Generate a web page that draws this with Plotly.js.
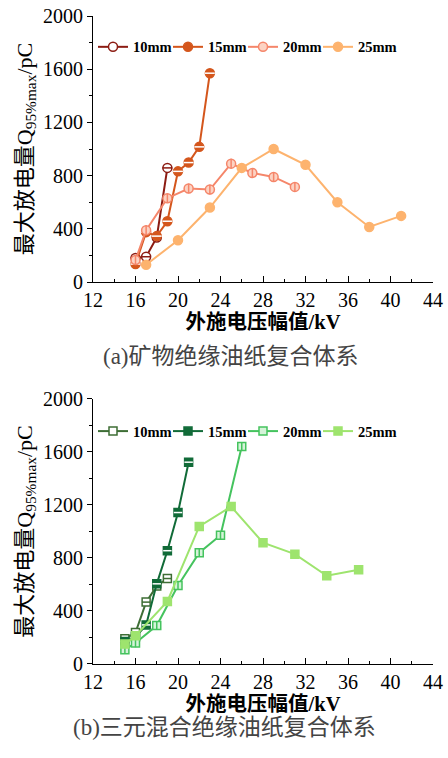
<!DOCTYPE html>
<html><head><meta charset="utf-8">
<script src="https://cdn.plot.ly/plotly-3.0.1.min.js"></script>
<style>html,body{margin:0;padding:0;background:#fff}#c{width:448px;height:758px}</style>
</head><body><div id="c"></div>
<script>
// (a) mineral oil-paper
const seriesNames = ['10mm','15mm','20mm','25mm'];
const v10a = [16,17,18,19];
const q10a = [180,190,335,858];
const v15a = [16,17,18,19,20,21,22,23];
const q15a = [135,375,345,457,832,898,1016,1570];
const v20a = [16,17,19,21,23,25,27,29,31];
const q20a = [165,390,630,703,695,890,820,790,715];
const v25a = [17,20,23,26,29,32,35,38,41];
const q25a = [130,314,560,858,1000,881,600,414,497];
// (b) ternary mixed oil-paper
const v10b = [15,16,17,18,19];
const q10b = [190,237,467,588,645];
const v15b = [15,16,17,18,19,20,21];
const q15b = [170,205,295,605,855,1143,1523];
const v20b = [15,16,18,20,22,24,26];
const q20b = [108,158,290,592,840,972,1641];
const v25b = [15,16,19,22,25,28,31,34,37];
const q25b = [150,213,472,1038,1188,915,829,666,711];
const xTicks = [12,16,20,24,28,32,36,40,44];
const yTicks = [0,400,800,1200,1600,2000];

const colA = ['#8c1c13','#d4561c','#f5866a','#fdb36e'];
const colB = ['#3e6e35','#116b38','#45c35e','#9ee46e'];

const traces = [];
function add(x, y, name, color, sym, fill, overlay, ovColor, xa, ya, leg, size){
  traces.push({x:x, y:y, name:name, mode:'lines+markers', xaxis:xa, yaxis:ya, legend:leg,
    line:{color:color, width:2},
    marker:{symbol:sym, size:size, color:fill, line:{color:color, width:1.5}}});
  if (overlay){
    traces.push({x:x, y:y, mode:'markers', xaxis:xa, yaxis:ya, showlegend:false, hoverinfo:'skip',
      marker:{symbol:overlay, size:size-2, line:{color:ovColor, width:1.5}}});
  }
}
add(v10a,q10a,seriesNames[0],colA[0],'circle','#ffffff','line-ew',colA[0],'x','y','legend',9);
add(v15a,q15a,seriesNames[1],colA[1],'circle',colA[1],'line-ew','#ffffff','x','y','legend',9);
add(v20a,q20a,seriesNames[2],colA[2],'circle','#fcd3c3','line-ns',colA[2],'x','y','legend',9);
add(v25a,q25a,seriesNames[3],colA[3],'circle',colA[3],null,null,'x','y','legend',9);
add(v10b,q10b,seriesNames[0],colB[0],'square','#ffffff','line-ew',colB[0],'x2','y2','legend2',8);
add(v15b,q15b,seriesNames[1],colB[1],'square',colB[1],'line-ew','#ffffff','x2','y2','legend2',8);
add(v20b,q20b,seriesNames[2],colB[2],'square','#d5f3d9','line-ns',colB[2],'x2','y2','legend2',8);
add(v25b,q25b,seriesNames[3],colB[3],'square',colB[3],null,null,'x2','y2','legend2',8);

const tickFont = {family:'Liberation Serif, Times New Roman, serif', size:20, color:'#000'};
const xTitle = {text:'<b>外施电压幅值/kV</b>', font:{family:'Liberation Serif, Noto Sans CJK SC', size:20.5, color:'#000'}, standoff:1};
const yTitle = {text:'最大放电量Q<sub>95%max</sub>/pC', font:{family:'Liberation Serif, Noto Sans CJK SC', size:22, color:'#000'}, standoff:4};
function xax(anchor){
  return {domain:[0,1], anchor:anchor, range:[12,44], tickvals:xTicks, ticktext:xTicks.map(String),
    showgrid:false, zeroline:false, showline:true, linecolor:'#000', linewidth:1,
    ticks:'inside', ticklen:6, tickcolor:'#000', tickfont:tickFont,
    minor:{dtick:2, tick0:12, ticks:'inside', ticklen:3, tickcolor:'#000'}, title:xTitle};
}
function yax(dom, anchor){
  return {domain:dom, anchor:anchor, range:[0,2000], tickvals:yTicks, ticktext:yTicks.map(String),
    showgrid:false, zeroline:false, showline:true, linecolor:'#000', linewidth:1,
    ticks:'outside', ticklen:5, tickcolor:'#000', tickfont:tickFont,
    minor:{dtick:200, tick0:0, ticks:'outside', ticklen:3, tickcolor:'#000'}, title:yTitle};
}
const legFont = {family:'Liberation Serif, Times New Roman, serif', size:14.5, color:'#000', weight:'bold'};
function leg(y){
  return {orientation:'h', x:0, y:y, xanchor:'left', yanchor:'top', font:legFont,
    bgcolor:'rgba(0,0,0,0)', itemwidth:30, tracegroupgap:0, borderwidth:0,
    entrywidth:30, entrywidthmode:'pixels'};
}
const layout = {
  width:448, height:758, paper_bgcolor:'#fff', plot_bgcolor:'#fff',
  margin:{l:93, r:15, t:16, b:94},
  showlegend:true,
  xaxis: xax('y'), yaxis: yax([0.5895,1],'x'),
  xaxis2: xax('y2'), yaxis2: yax([0,0.409],'x2'),
  legend: leg(0.977),
  legend2: leg(0.384),
  annotations:[
    {text:'(a)矿物绝缘油纸复合体系', xref:'paper', yref:'paper', x:0.406, y:0.474, showarrow:false,
      font:{family:'Liberation Serif, Noto Sans CJK SC', size:23, color:'#444'}},
    {text:'(b)三元混合绝缘油纸复合体系', xref:'paper', yref:'paper', x:0.388, y:-0.12, showarrow:false,
      font:{family:'Liberation Serif, Noto Sans CJK SC', size:23, color:'#444'}}
  ]
};
Plotly.newPlot('c', traces, layout, {staticPlot:true, displayModeBar:false}).then(function(gd){
  gd.querySelectorAll('.infolayer [clip-path]').forEach(function(el){ el.removeAttribute('clip-path'); });
});
</script></body></html>
